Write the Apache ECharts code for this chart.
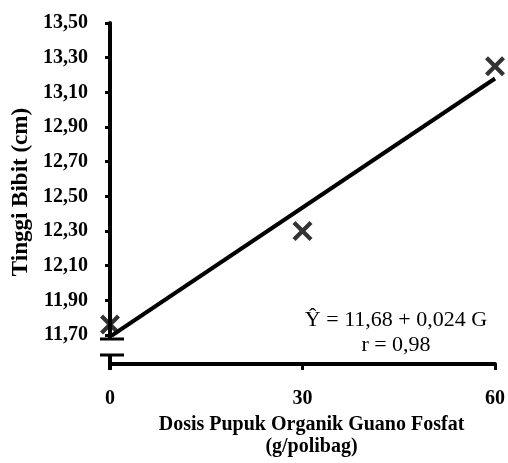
<!DOCTYPE html>
<html>
<head>
<meta charset="utf-8">
<script src="https://cdn.jsdelivr.net/npm/echarts@6/dist/echarts.min.js"></script>
<style>html,body{margin:0;padding:0;background:#fff}#c{width:508px;height:463px}</style>
</head>
<body>
<div id="c"></div>
<script>
const doses = [0, 30, 60];
const heights = [11.76, 12.30, 13.25];
const trendDoses = [0, 60];
const trendHeights = [11.69, 13.18];
const yTicks = [11.7, 11.9, 12.1, 12.3, 12.5, 12.7, 12.9, 13.1, 13.3, 13.5];
const xTicks = [0, 30, 60];
const xTitle = 'Dosis Pupuk Organik Guano Fosfat\n(g/polibag)';
const yTitle = 'Tinggi Bibit (cm)';
const equation = 'Ŷ = 11,68 + 0,024 G';
const rText = 'r = 0,98';

const FONT = '"Liberation Serif", "Times New Roman", serif';
const X_PATH = 'path://M3,0 L10,7 L17,0 L20,3 L13,10 L20,17 L17,20 L10,13 L3,20 L0,17 L7,10 L0,3 Z';

const chart = echarts.init(document.getElementById('c'), null, {renderer: 'canvas'});
const option = {
  animation: false,
  backgroundColor: '#fff',
  grid: {left: 110, right: 12, top: 23, bottom: 120, containLabel: false},
  xAxis: {
    type: 'value', min: 0, max: 60, interval: 30, offset: 29,
    axisLine: {show: true, lineStyle: {color: '#000', width: 4}},
    axisTick: {show: true, inside: false, length: 6, lineStyle: {color: '#000', width: 3}, customValues: xTicks},
    axisLabel: {customValues: xTicks, margin: 25, color: '#000', fontFamily: FONT, fontWeight: 'bold', fontSize: 20},
    splitLine: {show: false},
    name: xTitle, nameLocation: 'middle', nameGap: 50,
    nameTextStyle: {color: '#000', fontFamily: FONT, fontWeight: 'bold', fontSize: 20, lineHeight: 22, padding: [0, 0, 0, 18]}
  },
  yAxis: {
    type: 'value', min: 11.7, max: 13.5,
    axisLine: {show: true, lineStyle: {color: '#000', width: 4}},
    axisTick: {show: true, inside: false, length: 5, lineStyle: {color: '#000', width: 3}, customValues: yTicks},
    axisLabel: {customValues: yTicks, margin: 22, color: '#000', fontFamily: FONT, fontWeight: 'bold', fontSize: 20,
      formatter: v => Number(v).toFixed(2).replace('.', ',')},
    splitLine: {show: false},
    name: yTitle, nameLocation: 'middle', nameGap: 76,
    nameTextStyle: {color: '#000', fontFamily: FONT, fontWeight: 'bold', fontSize: 23, padding: [0, 26, 0, 0]}
  },
  series: [
    {
      type: 'line', data: trendDoses.map((d, i) => [d, trendHeights[i]]),
      showSymbol: false, symbol: 'none', lineStyle: {color: '#000', width: 4}, z: 2, silent: true
    },
    {
      type: 'scatter', data: doses.map((d, i) => [d, heights[i]]),
      symbol: X_PATH, symbolSize: 20, itemStyle: {color: '#000'}, z: 3
    }
  ]
};
chart.setOption(option);

function decorate() {
  const p0 = chart.convertToPixel({xAxisIndex: 0, yAxisIndex: 0}, [0, 11.7]);
  const ax = p0[0], yb = p0[1];
  const xAxisY = yb + 29;
  const capY = yb + 4, mark2Y = xAxisY - 9;
  const els = [
    {type: 'line', shape: {x1: ax, y1: yb - 1, x2: ax, y2: capY}, style: {stroke: '#000', lineWidth: 4}},
    {type: 'line', shape: {x1: ax - 10, y1: capY, x2: ax + 14, y2: capY}, style: {stroke: '#000', lineWidth: 3}},
    {type: 'line', shape: {x1: ax - 10, y1: mark2Y, x2: ax + 14, y2: mark2Y}, style: {stroke: '#000', lineWidth: 3}},
    {type: 'line', shape: {x1: ax, y1: mark2Y, x2: ax, y2: xAxisY + 6}, style: {stroke: '#000', lineWidth: 4}},
    {type: 'text', x: 396, y: 320, style: {text: equation, fill: '#000', font: '22px ' + FONT, align: 'center', verticalAlign: 'middle'}},
    {type: 'text', x: 396, y: 345, style: {text: rText, fill: '#000', font: '22px ' + FONT, align: 'center', verticalAlign: 'middle'}}
  ];
  chart.setOption({graphic: {elements: els}});
}
decorate();
</script>
</body>
</html>
